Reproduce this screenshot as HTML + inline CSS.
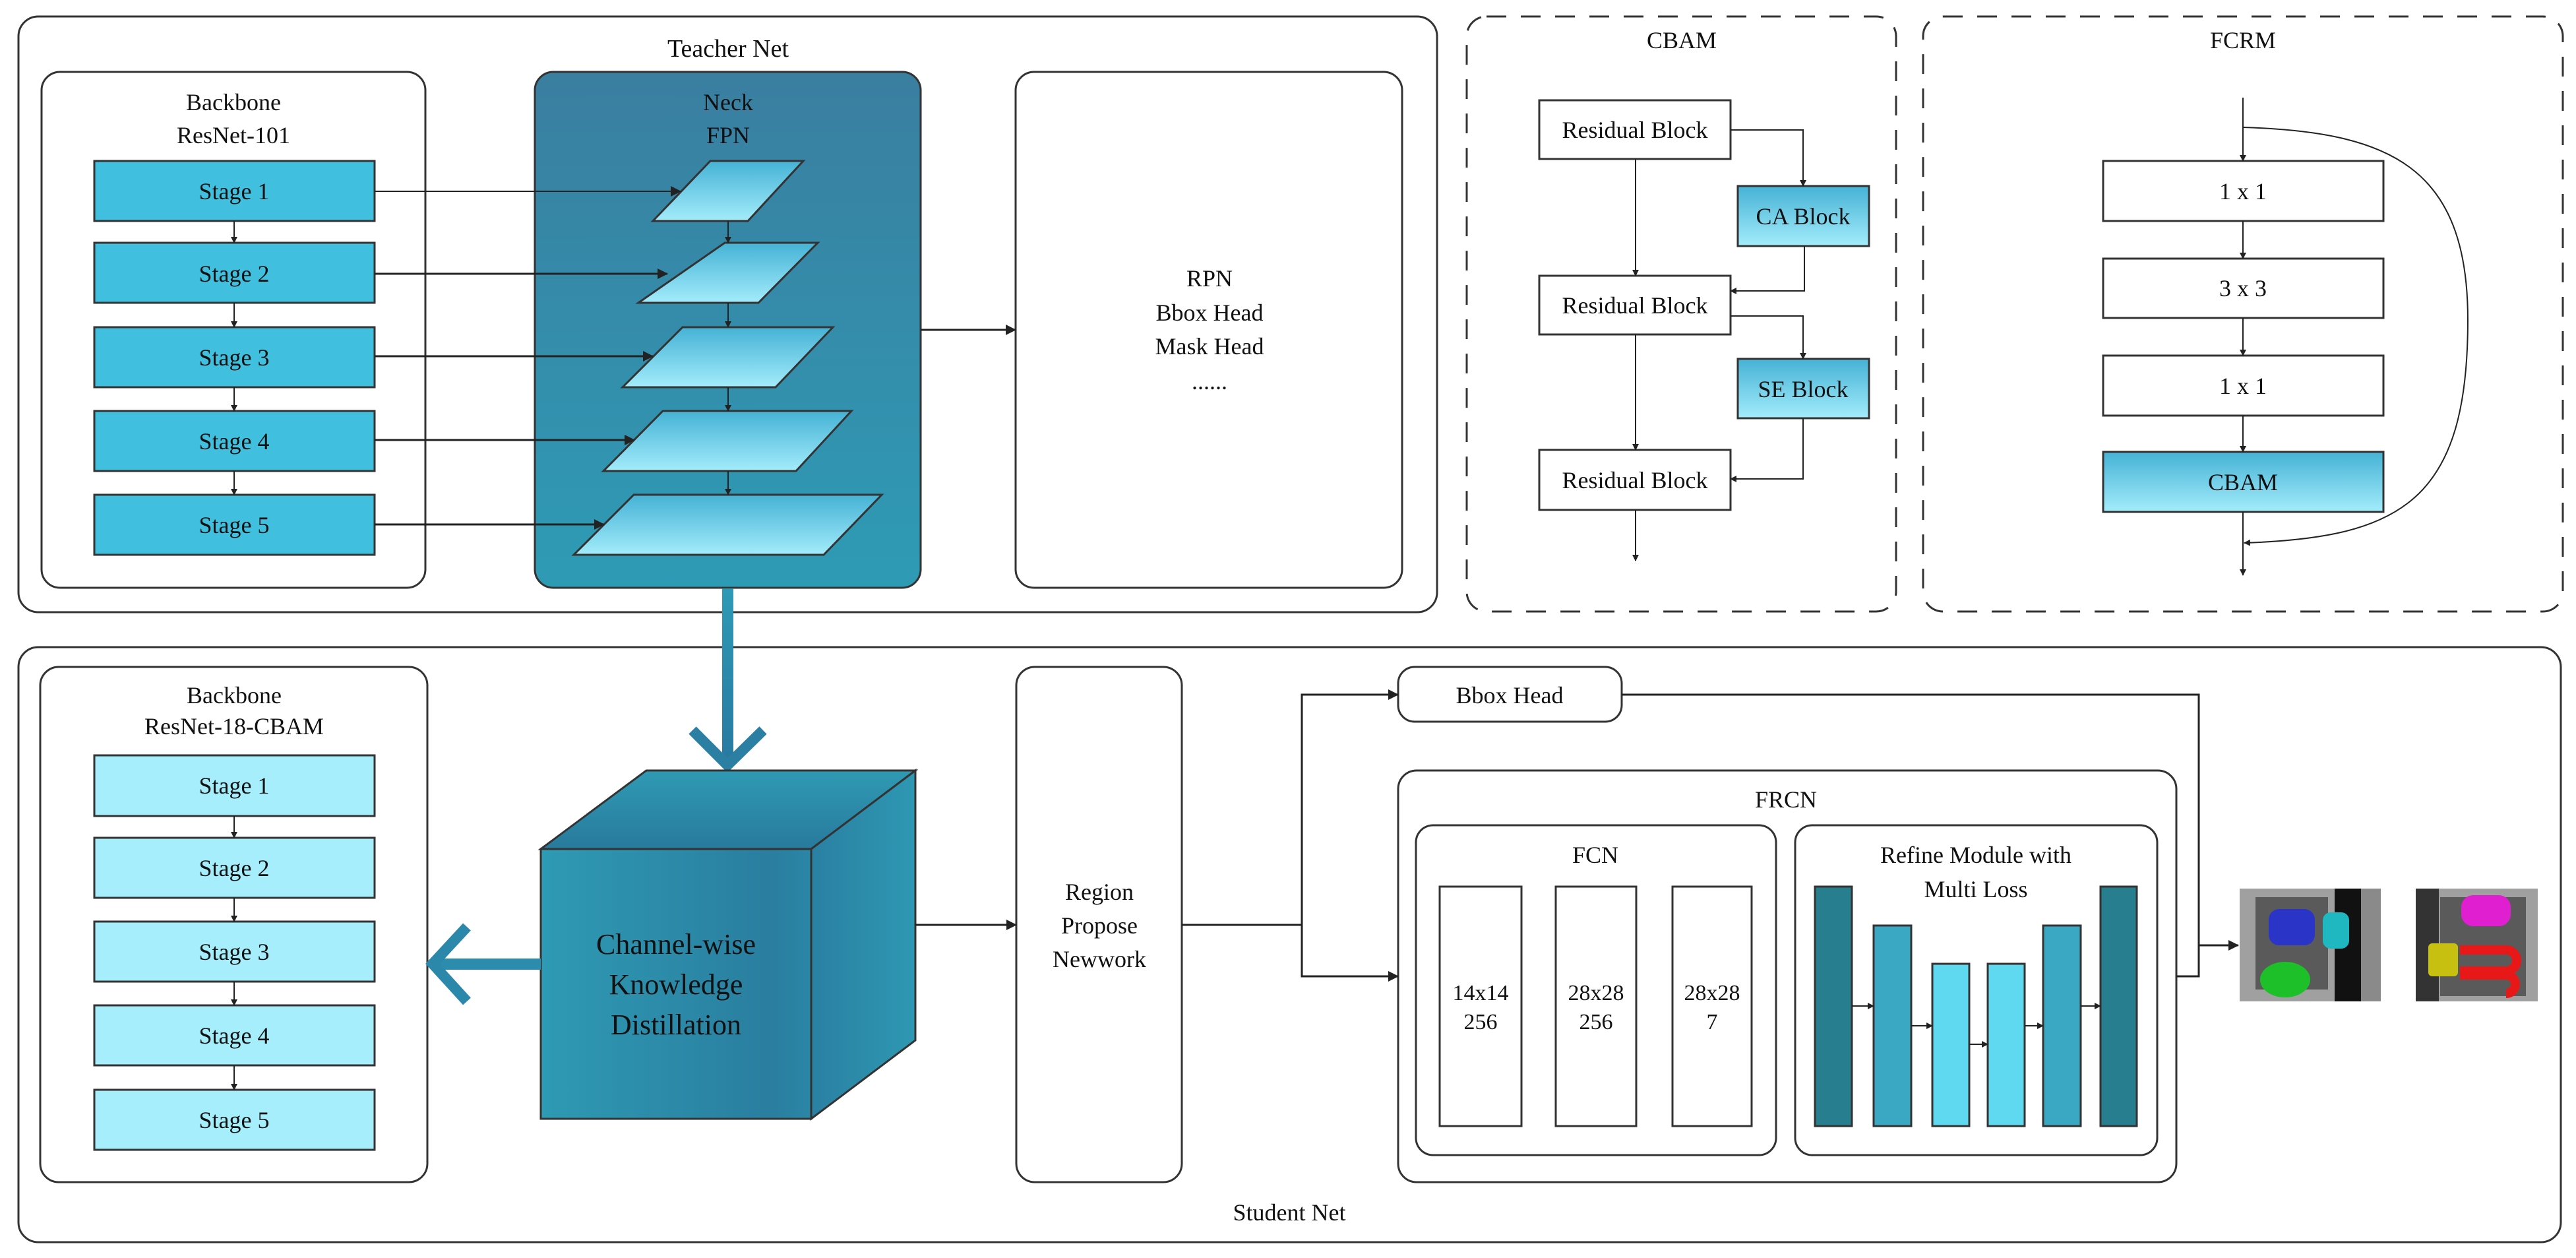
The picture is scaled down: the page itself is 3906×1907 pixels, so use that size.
<!DOCTYPE html>
<html><head><meta charset="utf-8"><style>
html,body{margin:0;padding:0;background:#fff;}
svg{display:block;}
text{font-family:"Liberation Serif",serif;fill:#111;text-anchor:middle;}
</style></head><body>
<svg width="3906" height="1907" viewBox="0 0 3906 1907" xmlns="http://www.w3.org/2000/svg">
<defs>
<linearGradient id="neck" x1="0" y1="0" x2="0" y2="1"><stop offset="0" stop-color="#3a7ea0"/><stop offset="1" stop-color="#2e9bb5"/></linearGradient>
<linearGradient id="para" x1="0" y1="0" x2="0" y2="1"><stop offset="0" stop-color="#45b2d5"/><stop offset="1" stop-color="#a3ecfb"/></linearGradient>
<linearGradient id="front" x1="0" y1="0" x2="1" y2="0"><stop offset="0" stop-color="#2e9ab4"/><stop offset="0.85" stop-color="#2a7ea0"/><stop offset="1" stop-color="#2b86a6"/></linearGradient>
<linearGradient id="topf" x1="0" y1="0" x2="0" y2="1"><stop offset="0" stop-color="#2f9ab4"/><stop offset="1" stop-color="#287a9c"/></linearGradient>
<linearGradient id="side" x1="0" y1="0" x2="1" y2="0"><stop offset="0" stop-color="#2a80a2"/><stop offset="1" stop-color="#2e98b3"/></linearGradient>
<linearGradient id="arr" x1="0" y1="0" x2="0" y2="1"><stop offset="0" stop-color="#2e9ab5"/><stop offset="1" stop-color="#2878a0"/></linearGradient>
<marker id="ah" markerWidth="10" markerHeight="10" refX="9" refY="5" orient="auto" markerUnits="userSpaceOnUse" viewBox="0 0 10 10"><path d="M0,0 L10,5 L0,10 z" fill="#222"/></marker>
<marker id="am" markerWidth="16" markerHeight="16" refX="15" refY="8" orient="auto" markerUnits="userSpaceOnUse" viewBox="0 0 16 16"><path d="M0,0 L16,8 L0,16 z" fill="#222"/></marker>
</defs>
<g stroke="#333" stroke-width="3" fill="none">
<rect x="28" y="25" width="2151" height="903" rx="30"/>
<rect x="63" y="109" width="582" height="782" rx="28"/>
<rect x="811" y="109" width="585" height="782" rx="28" fill="url(#neck)"/>
<rect x="1540" y="109" width="586" height="782" rx="28"/>
<rect x="2224" y="25" width="651" height="902" rx="30" stroke-dasharray="30,22"/>
<rect x="2916" y="25" width="970" height="902" rx="30" stroke-dasharray="30,22"/>
<rect x="28" y="981" width="3855" height="902" rx="30"/>
<rect x="61" y="1011" width="587" height="781" rx="28"/>
<rect x="1541" y="1011" width="251" height="781" rx="28"/>
<rect x="2120" y="1011" width="339" height="83" rx="25"/>
<rect x="2120" y="1168" width="1180" height="624" rx="28"/>
<rect x="2147" y="1251" width="546" height="500" rx="26"/>
<rect x="2722" y="1251" width="549" height="500" rx="26"/>
</g>
<g stroke="#333" stroke-width="3" fill="#40c0de">
<rect x="143" y="244" width="425" height="91"/>
<rect x="143" y="368" width="425" height="91"/>
<rect x="143" y="496" width="425" height="91"/>
<rect x="143" y="623" width="425" height="91"/>
<rect x="143" y="750" width="425" height="91"/>
</g>
<g stroke="#222" stroke-width="2" fill="none" marker-end="url(#ah)">
<line x1="355" y1="335" x2="355" y2="368"/>
<line x1="355" y1="459" x2="355" y2="496"/>
<line x1="355" y1="587" x2="355" y2="623"/>
<line x1="355" y1="714" x2="355" y2="750"/>
</g>
<g stroke="#333" stroke-width="3" fill="url(#para)">
<polygon points="1077,244 1218,244 1134,335 990,335"/>
<polygon points="1099,368 1240,368 1150,459 968,459"/>
<polygon points="1035,496 1263,496 1176,587 944,587"/>
<polygon points="1005,623 1291,623 1207,714 915,714"/>
<polygon points="961,750 1337,750 1249,841 870,841"/>
</g>
<g stroke="#222" stroke-width="3" fill="none" marker-end="url(#am)">
<line x1="568" y1="290" x2="1032" y2="290" stroke-width="2"/>
<line x1="568" y1="415" x2="1012" y2="415"/>
<line x1="568" y1="540" x2="990" y2="540"/>
<line x1="568" y1="667" x2="962" y2="667"/>
<line x1="568" y1="795" x2="916" y2="795"/>
<line x1="1396" y1="500" x2="1540" y2="500"/>
</g>
<g stroke="#222" stroke-width="2" fill="none" marker-end="url(#ah)">
<line x1="1104" y1="335" x2="1104" y2="368"/>
<line x1="1104" y1="459" x2="1104" y2="496"/>
<line x1="1104" y1="587" x2="1104" y2="623"/>
<line x1="1104" y1="714" x2="1104" y2="750"/>
</g>
<text x="1104" y="86" font-size="38">Teacher Net</text>
<text x="354" y="167" font-size="36">Backbone</text>
<text x="354" y="217" font-size="36">ResNet-101</text>
<text x="1104" y="167" font-size="36">Neck</text>
<text x="1104" y="217" font-size="36">FPN</text>
<g font-size="36">
<text x="355" y="302">Stage 1</text><text x="355" y="427">Stage 2</text><text x="355" y="554">Stage 3</text><text x="355" y="681">Stage 4</text><text x="355" y="808">Stage 5</text>
</g>
<g font-size="36">
<text x="1834" y="434">RPN</text><text x="1834" y="486">Bbox Head</text><text x="1834" y="537">Mask Head</text><text x="1834" y="590">......</text>
</g>
<g stroke="#333" stroke-width="3" fill="#fff">
<rect x="2334" y="152" width="290" height="89"/>
<rect x="2334" y="418" width="290" height="89"/>
<rect x="2334" y="682" width="290" height="91"/>
<rect x="2635" y="282" width="199" height="91" fill="url(#para)"/>
<rect x="2635" y="544" width="199" height="90" fill="url(#para)"/>
</g>
<g stroke="#222" stroke-width="2" fill="none" marker-end="url(#ah)">
<polyline points="2624,197 2734,197 2734,282"/>
<polyline points="2736,373 2736,441 2624,441"/>
<polyline points="2624,479 2734,479 2734,544"/>
<polyline points="2734,634 2734,726 2624,726"/>
<line x1="2480" y1="241" x2="2480" y2="418"/>
<line x1="2480" y1="507" x2="2480" y2="682"/>
<line x1="2480" y1="773" x2="2480" y2="850"/>
</g>
<text x="2550" y="73" font-size="36">CBAM</text>
<g font-size="36"><text x="2479" y="209">Residual Block</text><text x="2479" y="475">Residual Block</text><text x="2479" y="740">Residual Block</text><text x="2734" y="340">CA Block</text><text x="2734" y="602">SE Block</text></g>
<g stroke="#333" stroke-width="3" fill="#fff">
<rect x="3189" y="244" width="425" height="91"/>
<rect x="3189" y="392" width="425" height="90"/>
<rect x="3189" y="539" width="425" height="91"/>
<rect x="3189" y="685" width="425" height="91" fill="url(#para)"/>
</g>
<g stroke="#222" stroke-width="2" fill="none" marker-end="url(#ah)">
<line x1="3401" y1="148" x2="3401" y2="244"/>
<line x1="3401" y1="335" x2="3401" y2="392"/>
<line x1="3401" y1="482" x2="3401" y2="539"/>
<line x1="3401" y1="630" x2="3401" y2="685"/>
<line x1="3401" y1="776" x2="3401" y2="872"/>
<path d="M3401,193 C3620,200 3742,250 3742,485 C3742,760 3640,815 3403,823"/>
</g>
<text x="3401" y="73" font-size="36">FCRM</text>
<g font-size="36"><text x="3401" y="302">1 x 1</text><text x="3401" y="449">3 x 3</text><text x="3401" y="597">1 x 1</text><text x="3401" y="743">CBAM</text></g>
<g stroke="#333" stroke-width="3" fill="#a6eefb">
<rect x="143" y="1145" width="425" height="92"/>
<rect x="143" y="1270" width="425" height="91"/>
<rect x="143" y="1397" width="425" height="91"/>
<rect x="143" y="1524" width="425" height="91"/>
<rect x="143" y="1652" width="425" height="91"/>
</g>
<g stroke="#222" stroke-width="2" fill="none" marker-end="url(#ah)">
<line x1="355" y1="1237" x2="355" y2="1270"/>
<line x1="355" y1="1361" x2="355" y2="1397"/>
<line x1="355" y1="1488" x2="355" y2="1524"/>
<line x1="355" y1="1615" x2="355" y2="1652"/>
</g>
<text x="355" y="1066" font-size="36">Backbone</text>
<text x="355" y="1113" font-size="36">ResNet-18-CBAM</text>
<g font-size="36">
<text x="355" y="1203">Stage 1</text><text x="355" y="1328">Stage 2</text><text x="355" y="1455">Stage 3</text><text x="355" y="1582">Stage 4</text><text x="355" y="1710">Stage 5</text>
</g>
<rect x="1095" y="892" width="17" height="270" fill="url(#arr)"/>
<polyline points="1050,1107 1103,1160 1157,1107" fill="none" stroke="#2a7fa2" stroke-width="16"/>
<g stroke="#333" stroke-width="3">
<polygon points="820,1287 980,1168 1388,1168 1230,1287" fill="url(#topf)"/>
<polygon points="1230,1287 1388,1168 1388,1577 1230,1696" fill="url(#side)"/>
<rect x="820" y="1287" width="410" height="409" fill="url(#front)"/>
</g>
<rect x="656" y="1453" width="164" height="17" fill="#2b8cad"/>
<polyline points="708,1405 656,1461 708,1518" fill="none" stroke="#2b88aa" stroke-width="16"/>
<g font-size="44"><text x="1025" y="1446">Channel-wise</text><text x="1025" y="1507">Knowledge</text><text x="1025" y="1568">Distillation</text></g>
<g stroke="#222" stroke-width="3" fill="none" marker-end="url(#am)">
<line x1="1388" y1="1402" x2="1541" y2="1402"/>
<polyline points="1792,1402 1974,1402 1974,1053 2120,1053"/>
<polyline points="1974,1402 1974,1480 2120,1480"/>
<polyline points="3334,1433 3394,1433"/>
</g>
<g stroke="#222" stroke-width="3" fill="none">
<polyline points="2459,1053 3334,1053 3334,1480 3300,1480"/>
</g>
<g font-size="36">
<text x="1667" y="1364">Region</text><text x="1667" y="1415">Propose</text><text x="1667" y="1466">Newwork</text>
<text x="2289" y="1066">Bbox Head</text>
<text x="2708" y="1224">FRCN</text>
<text x="2419" y="1308">FCN</text>
<text x="2996" y="1308">Refine Module with</text>
<text x="2996" y="1360">Multi Loss</text>
<text x="1955" y="1850">Student Net</text>
</g>
<g stroke="#333" stroke-width="3" fill="#fff">
<rect x="2183" y="1344" width="124" height="363"/>
<rect x="2359" y="1344" width="122" height="363"/>
<rect x="2536" y="1344" width="120" height="363"/>
</g>
<g font-size="34">
<text x="2245" y="1516">14x14</text><text x="2245" y="1560">256</text>
<text x="2420" y="1516">28x28</text><text x="2420" y="1560">256</text>
<text x="2596" y="1516">28x28</text><text x="2596" y="1560">7</text>
</g>
<g stroke="#333" stroke-width="3">
<rect x="2752" y="1344" width="56" height="363" fill="#267e8e"/>
<rect x="2841" y="1403" width="57" height="304" fill="#3aa8c3"/>
<rect x="2930" y="1461" width="56" height="246" fill="#5fd9ef"/>
<rect x="3014" y="1461" width="56" height="246" fill="#5fd9ef"/>
<rect x="3098" y="1403" width="57" height="304" fill="#3aa8c3"/>
<rect x="3185" y="1344" width="55" height="363" fill="#267e8e"/>
</g>
<g stroke="#222" stroke-width="2" fill="none" marker-end="url(#ah)">
<line x1="2808" y1="1525" x2="2841" y2="1525"/>
<line x1="2898" y1="1555" x2="2930" y2="1555"/>
<line x1="2986" y1="1583" x2="3014" y2="1583"/>
<line x1="3070" y1="1555" x2="3098" y2="1555"/>
<line x1="3155" y1="1525" x2="3185" y2="1525"/>
</g>
<rect x="3396" y="1347" width="214" height="171" fill="#a0a0a0"/>
<rect x="3420" y="1360" width="110" height="140" fill="#5a5a5a"/>
<rect x="3540" y="1347" width="40" height="171" fill="#111"/>
<rect x="3580" y="1347" width="30" height="171" fill="#8a8a8a"/>
<rect x="3440" y="1378" width="70" height="55" rx="16" fill="#2a35c8"/>
<rect x="3522" y="1383" width="40" height="55" rx="12" fill="#1fb8c0"/>
<ellipse cx="3465" cy="1485" rx="38" ry="27" fill="#1ec02a"/>
<rect x="3663" y="1347" width="185" height="171" fill="#a0a0a0"/>
<rect x="3663" y="1347" width="35" height="171" fill="#333"/>
<rect x="3700" y="1360" width="130" height="150" fill="#5a5a5a"/>
<rect x="3732" y="1357" width="75" height="47" rx="18" fill="#e020d0"/>
<rect x="3682" y="1430" width="45" height="50" rx="6" fill="#c8c010"/>
<path d="M3730,1440 h70 a16,16 0 0 1 0,32 h-70 M3730,1478 h70 a14,14 0 0 1 0,28" fill="none" stroke="#e81818" stroke-width="14"/>
</svg>
</body></html>
